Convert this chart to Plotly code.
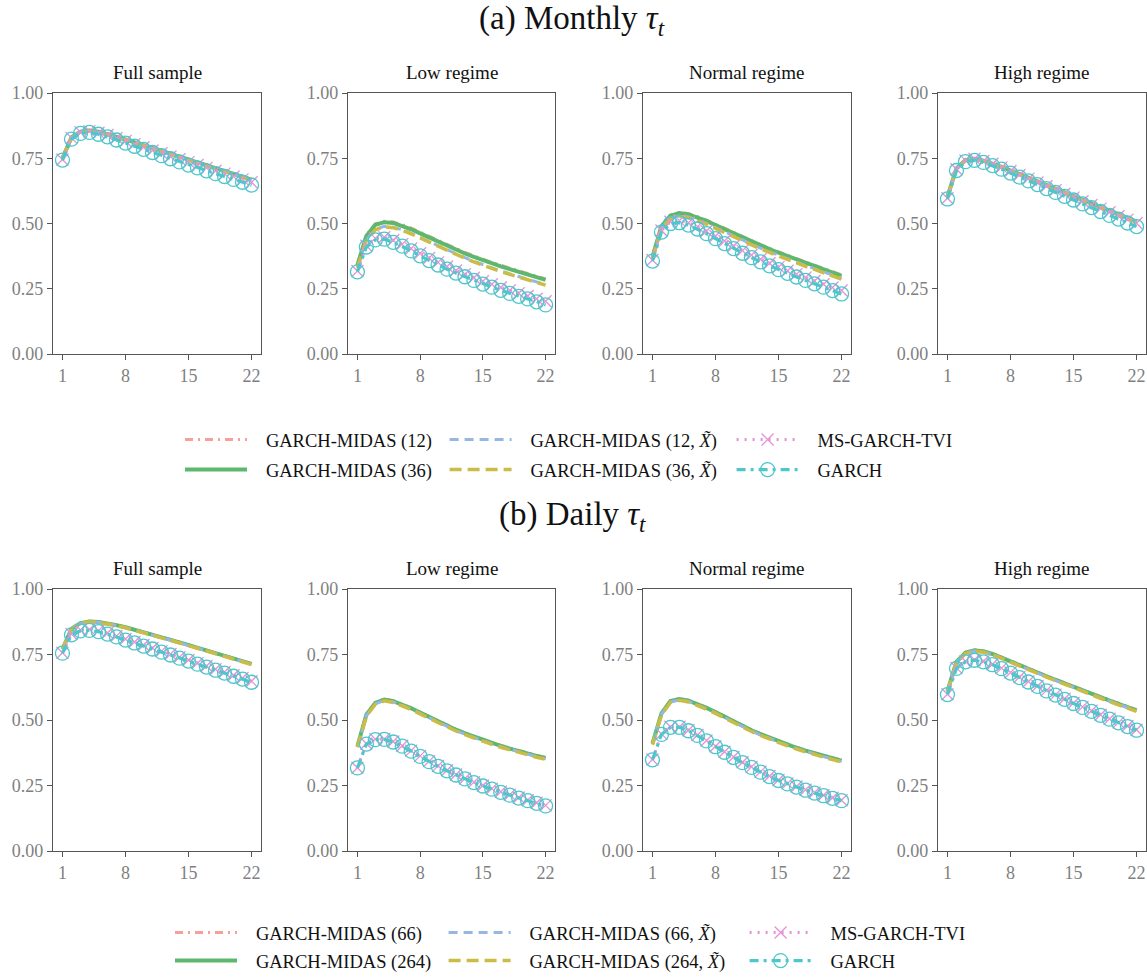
import plotly.graph_objects as go

# ---------------- data ----------------
horizons = list(range(1, 23))
x_ticks = [1, 8, 15, 22]
y_ticks = [0.0, 0.25, 0.5, 0.75, 1.0]
y_ticktext = ["0.00", "0.25", "0.50", "0.75", "1.00"]
panel_titles = ["Full sample", "Low regime", "Normal regime", "High regime"]
section_titles = ["(a) Monthly <i>τ</i><sub><i>t</i></sub>", "(b) Daily <i>τ</i><sub><i>t</i></sub>"]

names_monthly = ["GARCH-MIDAS (12)", "GARCH-MIDAS (36)", "GARCH-MIDAS (12, <i>X̃</i>)",
                 "GARCH-MIDAS (36, <i>X̃</i>)", "MS-GARCH-TVI", "GARCH"]
names_daily = ["GARCH-MIDAS (66)", "GARCH-MIDAS (264)", "GARCH-MIDAS (66, <i>X̃</i>)",
               "GARCH-MIDAS (264, <i>X̃</i>)", "MS-GARCH-TVI", "GARCH"]

# ----- (a) Monthly tau: Full sample -----
m_full_midas12 = [0.752, 0.832, 0.853, 0.857, 0.853, 0.845, 0.835, 0.824, 0.813, 0.802, 0.791, 0.780, 0.769, 0.758, 0.747, 0.736, 0.725, 0.714, 0.703, 0.692, 0.681, 0.670]
m_full_midas36 = [0.750, 0.830, 0.852, 0.856, 0.852, 0.843, 0.833, 0.822, 0.811, 0.800, 0.789, 0.778, 0.767, 0.756, 0.745, 0.734, 0.723, 0.712, 0.701, 0.690, 0.679, 0.668]
m_full_midas12x = [0.749, 0.829, 0.851, 0.855, 0.850, 0.842, 0.832, 0.821, 0.810, 0.799, 0.788, 0.777, 0.766, 0.755, 0.744, 0.733, 0.722, 0.711, 0.700, 0.689, 0.678, 0.667]
m_full_midas36x = [0.748, 0.828, 0.850, 0.854, 0.849, 0.841, 0.831, 0.820, 0.809, 0.798, 0.787, 0.776, 0.765, 0.754, 0.743, 0.732, 0.721, 0.710, 0.699, 0.688, 0.677, 0.666]
m_full_ms = [0.745, 0.828, 0.850, 0.854, 0.848, 0.839, 0.828, 0.816, 0.804, 0.792, 0.780, 0.769, 0.757, 0.746, 0.735, 0.724, 0.713, 0.702, 0.691, 0.680, 0.669, 0.658]
m_full_garch = [0.743, 0.823, 0.845, 0.849, 0.842, 0.832, 0.820, 0.808, 0.796, 0.784, 0.772, 0.760, 0.748, 0.736, 0.724, 0.713, 0.702, 0.691, 0.680, 0.669, 0.658, 0.647]

# ----- (a) Monthly tau: Low regime -----
m_low_midas12 = [0.345, 0.456, 0.499, 0.509, 0.506, 0.496, 0.482, 0.466, 0.450, 0.434, 0.418, 0.403, 0.389, 0.376, 0.363, 0.351, 0.340, 0.329, 0.318, 0.308, 0.298, 0.288]
m_low_midas36 = [0.340, 0.452, 0.495, 0.505, 0.502, 0.492, 0.478, 0.462, 0.446, 0.430, 0.414, 0.399, 0.385, 0.372, 0.359, 0.347, 0.336, 0.325, 0.314, 0.304, 0.294, 0.284]
m_low_midas12x = [0.332, 0.437, 0.478, 0.489, 0.486, 0.476, 0.462, 0.446, 0.430, 0.414, 0.398, 0.383, 0.369, 0.355, 0.342, 0.330, 0.318, 0.307, 0.296, 0.286, 0.276, 0.266]
m_low_midas36x = [0.330, 0.435, 0.476, 0.487, 0.484, 0.474, 0.460, 0.444, 0.428, 0.412, 0.396, 0.381, 0.367, 0.353, 0.340, 0.328, 0.316, 0.305, 0.294, 0.284, 0.274, 0.264]
m_low_ms = [0.318, 0.415, 0.443, 0.447, 0.436, 0.421, 0.404, 0.386, 0.368, 0.351, 0.335, 0.320, 0.306, 0.292, 0.279, 0.267, 0.255, 0.244, 0.233, 0.222, 0.212, 0.202]
m_low_garch = [0.315, 0.410, 0.437, 0.440, 0.428, 0.413, 0.395, 0.376, 0.358, 0.341, 0.325, 0.310, 0.296, 0.282, 0.268, 0.256, 0.244, 0.232, 0.221, 0.211, 0.200, 0.188]

# ----- (a) Monthly tau: Normal regime -----
m_norm_midas12 = [0.375, 0.493, 0.533, 0.543, 0.538, 0.527, 0.513, 0.497, 0.481, 0.465, 0.449, 0.434, 0.419, 0.405, 0.391, 0.378, 0.365, 0.352, 0.340, 0.328, 0.316, 0.303]
m_norm_midas36 = [0.372, 0.490, 0.530, 0.540, 0.535, 0.524, 0.510, 0.494, 0.478, 0.462, 0.446, 0.431, 0.416, 0.402, 0.388, 0.375, 0.362, 0.349, 0.337, 0.325, 0.312, 0.299]
m_norm_midas12x = [0.368, 0.483, 0.521, 0.530, 0.525, 0.514, 0.500, 0.484, 0.468, 0.452, 0.436, 0.421, 0.406, 0.392, 0.378, 0.365, 0.352, 0.339, 0.327, 0.315, 0.303, 0.290]
m_norm_midas36x = [0.365, 0.480, 0.518, 0.527, 0.522, 0.511, 0.497, 0.481, 0.465, 0.449, 0.433, 0.418, 0.403, 0.389, 0.375, 0.362, 0.349, 0.336, 0.324, 0.312, 0.300, 0.287]
m_norm_ms = [0.360, 0.473, 0.507, 0.511, 0.503, 0.488, 0.471, 0.452, 0.433, 0.414, 0.396, 0.379, 0.363, 0.348, 0.333, 0.319, 0.306, 0.293, 0.280, 0.267, 0.255, 0.243]
m_norm_garch = [0.356, 0.467, 0.500, 0.503, 0.494, 0.479, 0.461, 0.442, 0.423, 0.404, 0.386, 0.369, 0.353, 0.338, 0.323, 0.309, 0.295, 0.282, 0.269, 0.256, 0.243, 0.230]

# ----- (a) Monthly tau: High regime -----
m_high_midas12 = [0.605, 0.712, 0.744, 0.749, 0.742, 0.731, 0.718, 0.704, 0.690, 0.676, 0.662, 0.648, 0.634, 0.620, 0.606, 0.592, 0.578, 0.564, 0.550, 0.536, 0.522, 0.508]
m_high_midas36 = [0.603, 0.711, 0.743, 0.748, 0.741, 0.730, 0.717, 0.703, 0.689, 0.675, 0.661, 0.647, 0.633, 0.619, 0.605, 0.591, 0.577, 0.563, 0.549, 0.535, 0.521, 0.507]
m_high_midas12x = [0.602, 0.710, 0.742, 0.747, 0.740, 0.729, 0.716, 0.702, 0.688, 0.674, 0.660, 0.646, 0.632, 0.618, 0.604, 0.590, 0.576, 0.562, 0.548, 0.534, 0.520, 0.506]
m_high_midas36x = [0.601, 0.709, 0.741, 0.746, 0.739, 0.728, 0.715, 0.701, 0.687, 0.673, 0.659, 0.645, 0.631, 0.617, 0.603, 0.589, 0.575, 0.561, 0.547, 0.533, 0.519, 0.505]
m_high_ms = [0.597, 0.708, 0.742, 0.748, 0.740, 0.729, 0.715, 0.701, 0.686, 0.672, 0.657, 0.643, 0.628, 0.614, 0.599, 0.585, 0.571, 0.557, 0.543, 0.529, 0.515, 0.501]
m_high_garch = [0.594, 0.703, 0.737, 0.742, 0.734, 0.722, 0.708, 0.693, 0.678, 0.663, 0.649, 0.634, 0.619, 0.604, 0.590, 0.575, 0.561, 0.546, 0.531, 0.517, 0.502, 0.488]

# ----- (b) Daily tau: Full sample -----
d_full_midas66 = [0.771, 0.849, 0.871, 0.877, 0.875, 0.870, 0.863, 0.855, 0.846, 0.837, 0.827, 0.817, 0.807, 0.797, 0.787, 0.777, 0.767, 0.756, 0.746, 0.736, 0.725, 0.715]
d_full_midas264 = [0.770, 0.848, 0.870, 0.876, 0.874, 0.869, 0.862, 0.854, 0.845, 0.836, 0.826, 0.816, 0.806, 0.796, 0.786, 0.776, 0.766, 0.755, 0.745, 0.735, 0.724, 0.714]
d_full_midas66x = [0.770, 0.847, 0.869, 0.875, 0.873, 0.868, 0.861, 0.853, 0.844, 0.835, 0.825, 0.815, 0.805, 0.795, 0.785, 0.775, 0.765, 0.754, 0.744, 0.734, 0.723, 0.713]
d_full_midas264x = [0.769, 0.847, 0.869, 0.875, 0.872, 0.867, 0.860, 0.852, 0.843, 0.834, 0.824, 0.814, 0.804, 0.794, 0.784, 0.774, 0.764, 0.753, 0.743, 0.733, 0.722, 0.712]
d_full_ms = [0.757, 0.828, 0.844, 0.846, 0.841, 0.832, 0.821, 0.809, 0.798, 0.786, 0.775, 0.763, 0.752, 0.740, 0.729, 0.717, 0.706, 0.694, 0.683, 0.671, 0.660, 0.648]
d_full_garch = [0.755, 0.825, 0.840, 0.842, 0.837, 0.828, 0.817, 0.805, 0.794, 0.782, 0.771, 0.759, 0.748, 0.736, 0.725, 0.713, 0.702, 0.690, 0.679, 0.667, 0.656, 0.644]

# ----- (b) Daily tau: Low regime -----
d_low_midas66 = [0.402, 0.522, 0.567, 0.580, 0.574, 0.562, 0.547, 0.530, 0.513, 0.496, 0.480, 0.465, 0.451, 0.438, 0.426, 0.414, 0.403, 0.393, 0.383, 0.374, 0.365, 0.357]
d_low_midas264 = [0.400, 0.520, 0.565, 0.578, 0.572, 0.560, 0.545, 0.528, 0.511, 0.494, 0.478, 0.463, 0.449, 0.436, 0.424, 0.412, 0.401, 0.391, 0.381, 0.372, 0.363, 0.355]
d_low_midas66x = [0.398, 0.517, 0.562, 0.575, 0.569, 0.557, 0.542, 0.525, 0.508, 0.491, 0.475, 0.460, 0.446, 0.433, 0.421, 0.409, 0.398, 0.388, 0.378, 0.369, 0.360, 0.352]
d_low_midas264x = [0.396, 0.515, 0.560, 0.573, 0.567, 0.555, 0.540, 0.523, 0.506, 0.489, 0.473, 0.458, 0.444, 0.431, 0.419, 0.407, 0.396, 0.386, 0.376, 0.367, 0.358, 0.350]
d_low_ms = [0.318, 0.410, 0.427, 0.428, 0.418, 0.402, 0.383, 0.363, 0.343, 0.325, 0.308, 0.292, 0.277, 0.263, 0.250, 0.238, 0.226, 0.215, 0.204, 0.194, 0.184, 0.174]
d_low_garch = [0.317, 0.408, 0.425, 0.426, 0.416, 0.400, 0.381, 0.361, 0.341, 0.323, 0.306, 0.290, 0.275, 0.261, 0.248, 0.236, 0.224, 0.213, 0.202, 0.192, 0.182, 0.172]

# ----- (b) Daily tau: Normal regime -----
d_norm_midas66 = [0.412, 0.527, 0.574, 0.582, 0.576, 0.563, 0.548, 0.532, 0.514, 0.496, 0.479, 0.463, 0.448, 0.434, 0.420, 0.408, 0.396, 0.385, 0.375, 0.365, 0.356, 0.347]
d_norm_midas264 = [0.410, 0.525, 0.572, 0.580, 0.574, 0.561, 0.546, 0.530, 0.512, 0.494, 0.477, 0.461, 0.446, 0.432, 0.418, 0.406, 0.394, 0.383, 0.373, 0.363, 0.354, 0.345]
d_norm_midas66x = [0.408, 0.522, 0.569, 0.577, 0.571, 0.558, 0.543, 0.527, 0.509, 0.491, 0.474, 0.458, 0.443, 0.429, 0.415, 0.403, 0.391, 0.380, 0.370, 0.360, 0.351, 0.342]
d_norm_midas264x = [0.406, 0.520, 0.567, 0.575, 0.569, 0.556, 0.541, 0.525, 0.507, 0.489, 0.472, 0.456, 0.441, 0.427, 0.413, 0.401, 0.389, 0.378, 0.368, 0.358, 0.349, 0.340]
d_norm_ms = [0.349, 0.447, 0.474, 0.474, 0.461, 0.443, 0.422, 0.400, 0.379, 0.359, 0.339, 0.321, 0.303, 0.286, 0.271, 0.258, 0.246, 0.234, 0.223, 0.213, 0.203, 0.194]
d_norm_garch = [0.348, 0.445, 0.472, 0.472, 0.459, 0.441, 0.420, 0.398, 0.377, 0.357, 0.337, 0.319, 0.301, 0.284, 0.269, 0.256, 0.244, 0.232, 0.221, 0.211, 0.201, 0.192]

# ----- (b) Daily tau: High regime -----
d_high_midas66 = [0.612, 0.724, 0.759, 0.768, 0.764, 0.754, 0.740, 0.725, 0.711, 0.697, 0.683, 0.669, 0.655, 0.641, 0.628, 0.615, 0.602, 0.589, 0.576, 0.563, 0.551, 0.539]
d_high_midas264 = [0.610, 0.722, 0.757, 0.766, 0.762, 0.752, 0.738, 0.723, 0.709, 0.695, 0.681, 0.667, 0.653, 0.639, 0.626, 0.613, 0.600, 0.587, 0.574, 0.561, 0.549, 0.537]
d_high_midas66x = [0.609, 0.720, 0.755, 0.764, 0.760, 0.750, 0.736, 0.721, 0.707, 0.693, 0.679, 0.665, 0.651, 0.637, 0.624, 0.611, 0.598, 0.585, 0.572, 0.559, 0.547, 0.535]
d_high_midas264x = [0.608, 0.719, 0.754, 0.763, 0.759, 0.749, 0.735, 0.720, 0.706, 0.692, 0.678, 0.664, 0.650, 0.636, 0.622, 0.609, 0.596, 0.583, 0.570, 0.557, 0.545, 0.533]
d_high_ms = [0.598, 0.699, 0.724, 0.730, 0.724, 0.713, 0.698, 0.681, 0.664, 0.647, 0.630, 0.613, 0.597, 0.581, 0.565, 0.550, 0.535, 0.520, 0.505, 0.491, 0.477, 0.463]
d_high_garch = [0.597, 0.697, 0.722, 0.728, 0.722, 0.711, 0.696, 0.679, 0.662, 0.645, 0.628, 0.611, 0.595, 0.579, 0.563, 0.548, 0.533, 0.518, 0.503, 0.489, 0.475, 0.461]

monthly_panels = [
    [m_full_midas12, m_full_midas36, m_full_midas12x, m_full_midas36x, m_full_ms, m_full_garch],
    [m_low_midas12, m_low_midas36, m_low_midas12x, m_low_midas36x, m_low_ms, m_low_garch],
    [m_norm_midas12, m_norm_midas36, m_norm_midas12x, m_norm_midas36x, m_norm_ms, m_norm_garch],
    [m_high_midas12, m_high_midas36, m_high_midas12x, m_high_midas36x, m_high_ms, m_high_garch],
]
daily_panels = [
    [d_full_midas66, d_full_midas264, d_full_midas66x, d_full_midas264x, d_full_ms, d_full_garch],
    [d_low_midas66, d_low_midas264, d_low_midas66x, d_low_midas264x, d_low_ms, d_low_garch],
    [d_norm_midas66, d_norm_midas264, d_norm_midas66x, d_norm_midas264x, d_norm_ms, d_norm_garch],
    [d_high_midas66, d_high_midas264, d_high_midas66x, d_high_midas264x, d_high_ms, d_high_garch],
]

# ---------------- styles ----------------
COLORS = ["#f7a099", "#5cb86c", "#97b7e3", "#cbbc47", "#e592d6", "#4cc7cc"]
DASHES = ["8px,5px,2px,5px", "solid", "9px,6px", "12px,6px", "2px,6px", "9px,5px,3px,5px"]
WIDTHS = [3, 4, 3, 3.5, 3, 3.2]
MODES = ["lines", "lines", "lines", "lines", "lines+markers", "lines+markers"]
MARKERS = [None, None, None, None,
           dict(symbol="x-thin-open", size=12, color=COLORS[4], line=dict(width=1.3, color=COLORS[4])),
           dict(symbol="circle-open", size=14, color=COLORS[5], line=dict(width=1.3, color=COLORS[5]))]

FONT = "Liberation Serif, Times New Roman, serif"
W, H = 1147, 980
col_px = [(53, 261), (348, 555), (643, 851), (938, 1146)]
row_px = [(93, 354), (589, 851)]
PAD = "\u00a0" * 3  # gap between legend sample line and label

fig = go.Figure()

legend_cols = [[0, 1], [2, 3], [4, 5]]
legend_names_top = ["legend", "legend2", "legend3"]
legend_names_bot = ["legend4", "legend5", "legend6"]


def legend_for(series_idx, half):
    for c, members in enumerate(legend_cols):
        if series_idx in members:
            return (legend_names_top if half == 0 else legend_names_bot)[c]


ax_n = 0
for half, (panels, names) in enumerate([(monthly_panels, names_monthly), (daily_panels, names_daily)]):
    for p, series in enumerate(panels):
        ax_n += 1
        xa = "x" if ax_n == 1 else f"x{ax_n}"
        ya = "y" if ax_n == 1 else f"y{ax_n}"
        for s, vals in enumerate(series):
            kw = dict(
                x=horizons, y=vals, mode=MODES[s], name=PAD + names[s],
                line=dict(color=COLORS[s], width=WIDTHS[s], dash=DASHES[s]),
                xaxis=xa, yaxis=ya,
                legendgroup=f"h{half}s{s}", showlegend=(p == 0),
                legend=legend_for(s, half),
            )
            if MARKERS[s] is not None:
                kw["marker"] = MARKERS[s]
            fig.add_trace(go.Scatter(**kw))
        x0, x1 = col_px[p]
        y0, y1 = row_px[half]
        axis_common = dict(showline=True, linecolor="#555555", linewidth=1.2, mirror=True,
                           ticks="outside", ticklen=5, tickwidth=1.2, tickcolor="#555555",
                           showgrid=False, zeroline=False, automargin=False,
                           tickfont=dict(family=FONT, size=18, color="#7f7f7f"))
        xkey = "xaxis" if ax_n == 1 else f"xaxis{ax_n}"
        ykey = "yaxis" if ax_n == 1 else f"yaxis{ax_n}"
        fig.update_layout({
            xkey: dict(domain=[x0 / W, x1 / W], anchor=ya, range=[-0.05, 23.05],
                       tickvals=x_ticks, **axis_common),
            ykey: dict(domain=[1 - y1 / H, 1 - y0 / H], anchor=xa, range=[0, 1],
                       tickvals=y_ticks, ticktext=y_ticktext, **axis_common),
        })
        fig.add_annotation(text=panel_titles[p], xref="paper", yref="paper",
                           x=(x0 + x1) / 2 / W, y=1 - (y0 - 21) / H, xanchor="center", yanchor="middle",
                           showarrow=False, font=dict(family=FONT, size=19, color="#111111"))

for half, ypx in enumerate([20, 516]):
    fig.add_annotation(text=section_titles[half], xref="paper", yref="paper",
                       x=572 / W, y=1 - ypx / H, xanchor="center", yanchor="middle",
                       showarrow=False, font=dict(family=FONT, size=33, color="#111111"))

leg_common = dict(orientation="v", bgcolor="rgba(0,0,0,0)", borderwidth=0,
                  font=dict(family=FONT, size=18.5, color="#111111"),
                  itemwidth=62, traceorder="grouped", xanchor="left")
leg_x_top = [180, 444.6, 731.6]
leg_x_bot = [170, 443.6, 744.6]
legend_layout = {}
for c in range(3):
    legend_layout[legend_names_top[c]] = dict(x=leg_x_top[c] / W, y=1 - 421 / H, yanchor="top",
                                              tracegroupgap=3, **leg_common)
    legend_layout[legend_names_bot[c]] = dict(x=leg_x_bot[c] / W, y=0.0, yanchor="bottom",
                                              tracegroupgap=1, **leg_common)

fig.update_layout(
    template="none",
    width=W, height=H, margin=dict(l=0, r=0, t=0, b=0, autoexpand=False),
    paper_bgcolor="white", plot_bgcolor="white",
    font=dict(family=FONT),
    **legend_layout,
)

fig.write_html("out.html")
